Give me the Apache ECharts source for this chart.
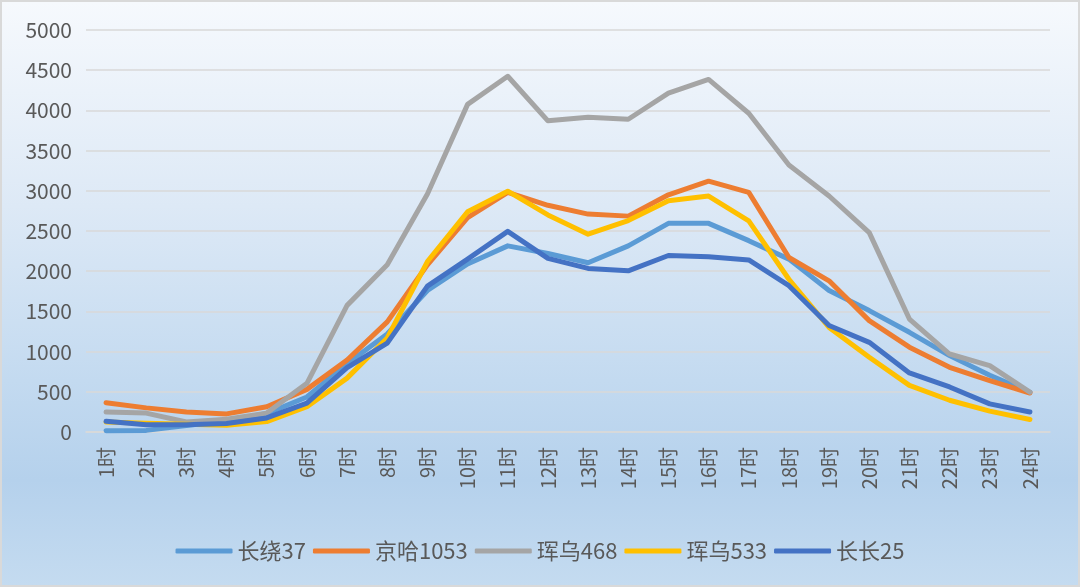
<!DOCTYPE html>
<html>
<head>
<meta charset="utf-8">
<script src="https://cdn.jsdelivr.net/npm/echarts@6/dist/echarts.min.js"></script>
<style>
html,body{margin:0;padding:0;}
#c{width:1080px;height:587px;box-sizing:border-box;border:2px solid #d9d9d9;
background:linear-gradient(to bottom,#f6f9fd 0%,#dde9f6 35%,#c3daf0 65%,#b5d1ec 82%,#c4dbf0 100%);}
</style>
</head>
<body>
<div id="c"></div>
<script>
const categories = ["1时","2时","3时","4时","5时","6时","7时","8时","9时","10时","11时","12时","13时","14时","15时","16时","17时","18时","19时","20时","21时","22时","23时","24时"];
const seriesNames = ["长绕37","京哈1053","珲乌468","珲乌533","长长25"];
const changrao37 = [15,20,80,140,230,435,850,1220,1760,2090,2315,2220,2105,2315,2595,2595,2380,2150,1760,1510,1240,950,705,495];
const jingha1053 = [365,300,250,225,315,530,895,1370,2080,2665,2980,2820,2710,2685,2950,3120,2980,2170,1880,1385,1055,805,640,485];
const hunwu468 = [250,235,125,160,235,605,1575,2080,2960,4075,4425,3870,3915,3890,4215,4385,3965,3320,2935,2480,1405,970,825,495];
const hunwu533 = [125,110,95,85,130,315,670,1170,2120,2740,2995,2700,2460,2630,2875,2935,2625,1900,1300,930,580,395,260,155];
const changchang25 = [135,90,90,105,175,360,800,1105,1815,2150,2495,2160,2035,2005,2195,2180,2140,1820,1325,1115,735,560,350,248];
const yTicks = [0,500,1000,1500,2000,2500,3000,3500,4000,4500,5000];

const colors = ["#5b9bd5","#ed7d31","#a5a5a5","#ffc000","#4472c4"];
const dataList = [changrao37,jingha1053,hunwu468,hunwu533,changchang25];
const font = "'Noto Sans CJK SC', 'Noto Sans', sans-serif";

const chart = echarts.init(document.getElementById('c'));
chart.setOption({
  animation:false,
  backgroundColor:'transparent',
  color:colors,
  grid:{left:84,right:28,top:28,bottom:153,containLabel:false},
  legend:{
    top:533,left:'center',
    icon:'roundRect',itemWidth:57,itemHeight:5,itemGap:7,
    textStyle:{color:'#595959',fontSize:22,fontFamily:font},
    data:seriesNames
  },
  xAxis:{
    type:'category',data:categories,boundaryGap:true,
    axisLine:{show:true,lineStyle:{color:'#d9d9d9',width:1.5}},
    axisTick:{show:false},
    axisLabel:{rotate:90,color:'#595959',fontSize:20,fontFamily:font,margin:15,interval:0}
  },
  yAxis:{
    type:'value',min:yTicks[0],max:yTicks[yTicks.length-1],interval:500,
    axisLine:{show:false},axisTick:{show:false},
    axisLabel:{color:'#595959',fontSize:21,fontFamily:font,margin:14,formatter:v=>String(v)},
    splitLine:{lineStyle:{color:'#d9d9d9',width:1.5}}
  },
  series:seriesNames.map((n,i)=>({
    name:n,type:'line',data:dataList[i],symbol:'none',
    lineStyle:{width:5,color:colors[i],join:'round',cap:'round'},
    itemStyle:{color:colors[i]}
  }))
});
</script>
</body>
</html>
